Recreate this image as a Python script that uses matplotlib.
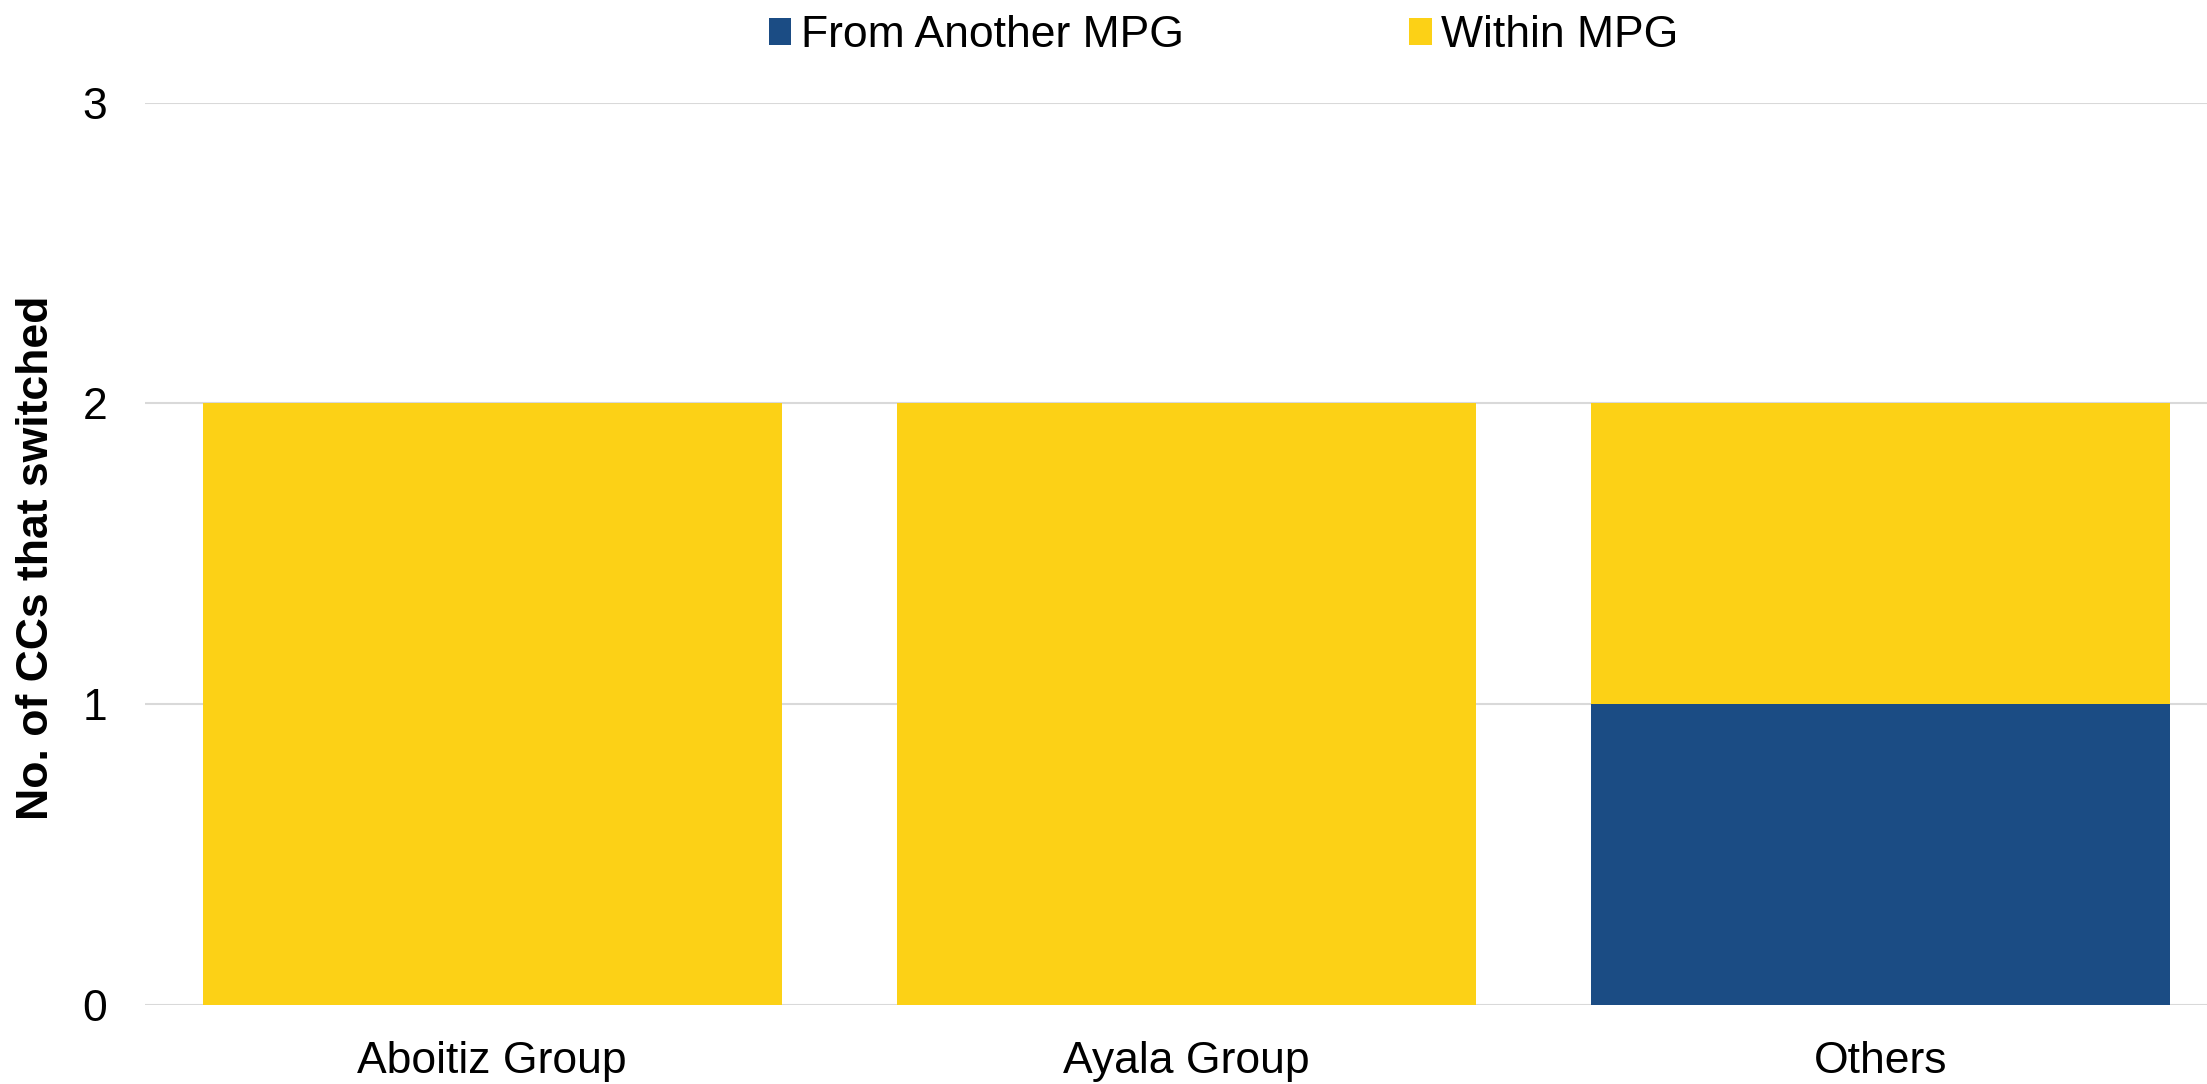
import numpy as np
import matplotlib
matplotlib.use("Agg")
from matplotlib import pyplot as plt

categories = ["Aboitiz Group", "Ayala Group", "Others"]
from_another = [0, 0, 1]
within = [2, 2, 1]
series_names = ["From Another MPG", "Within MPG"]

blue = "#1B4C84"
yellow = "#FCD116"

plt.rcParams['font.family'] = ['Liberation Sans', 'DejaVu Sans']

fig = plt.figure(figsize=(22.07, 10.84), dpi=100)
ax = fig.add_axes([0.0657, 0.0729, 0.9343, 0.8324])

x = np.arange(len(categories))
ax.bar(x, from_another, width=0.834, color=blue, label=series_names[0], zorder=2)
ax.bar(x, within, width=0.834, bottom=from_another, color=yellow, label=series_names[1], zorder=2)

ax.set_xlim(-0.5, 2.47)
ax.set_ylim(0, 3)
ax.set_yticks([0, 1, 2, 3])
ax.set_xticks(x)
ax.set_xticklabels(categories)
ax.tick_params(axis='both', length=0, labelsize=32)
ax.tick_params(axis='y', pad=27)
ax.tick_params(axis='x', pad=26)
ax.yaxis.grid(True, color="#D9D9D9", linewidth=1.5, zorder=0)
ax.set_axisbelow(True)
for s in ax.spines.values():
    s.set_visible(False)

fig.text(37 / 2207, 0.485, "No. of CCs that switched", rotation=90,
         ha='center', va='center', fontsize=32, fontweight='bold')

fig.legend(loc='center', bbox_to_anchor=(0.5545, 0.967), ncol=2, frameon=False,
           fontsize=32, handlelength=0.5, handleheight=0.55, handletextpad=0.22,
           columnspacing=5.08, borderaxespad=0, borderpad=0)

fig.savefig("out.png", dpi=100)
